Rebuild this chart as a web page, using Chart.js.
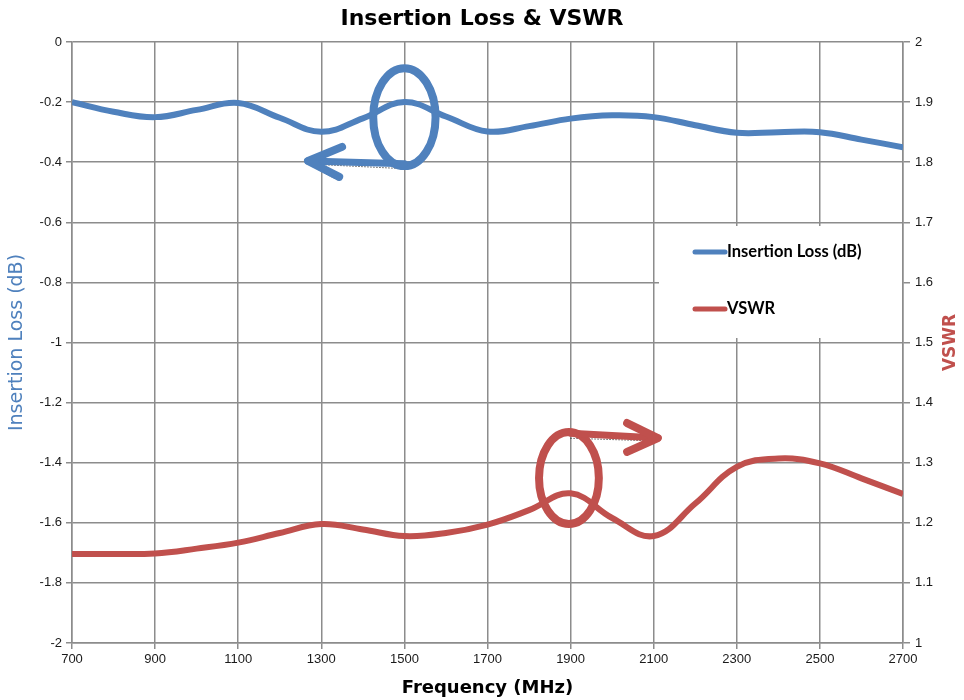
<!DOCTYPE html>
<html>
<head>
<meta charset="utf-8">
<title>Insertion Loss & VSWR</title>
<script src="https://cdn.jsdelivr.net/npm/chart.js@4.4.1/dist/chart.umd.min.js"></script>
<style>
  html, body { margin: 0; padding: 0; background: #fff; }
  #wrap { width: 964px; height: 700px; }
</style>
</head>
<body>
<div id="wrap"><canvas id="lossChart" width="964" height="700"></canvas></div>
<script>
// Frequency points (MHz)
const freqs = [700, 800, 900, 1000, 1100, 1200, 1300, 1400, 1500, 1600, 1700,
               1800, 1900, 2000, 2100, 2200, 2300, 2400, 2500, 2600, 2700];

// Insertion loss (dB), left axis
const insertionLoss = [-0.20, -0.232, -0.25, -0.226, -0.203, -0.252, -0.299, -0.254, -0.20, -0.248, -0.298,
                       -0.28, -0.255, -0.244, -0.25, -0.277, -0.302, -0.30, -0.30, -0.325, -0.35];

// VSWR, right axis
const vswr = [1.148, 1.148, 1.149, 1.157, 1.167, 1.183, 1.198, 1.189, 1.178, 1.183, 1.197,
              1.221, 1.249, 1.208, 1.178, 1.232, 1.293, 1.307, 1.299, 1.274, 1.248];

const seriesNames = ['Insertion Loss (dB)', 'VSWR'];
const xRange = [700, 2700];
const lossRange = [-2, 0];
const vswrRange = [1, 2];

const BLUE = '#4f81bd';
const RED = '#c0504d';
const GRID = '#8c8c8c';

function pairs(xs, ys) {
    return xs.map((x, i) => ({ x: x, y: ys[i] }));
}

function fmt(v) {
    return String(+v.toFixed(2));
}

// hand-drawn looking callouts, placed in data units
const callouts = [
    { axis: 'yL', color: BLUE, cx: 1500, cy: -0.25, rx: 75, ry: 0.163,
      shaft: [[1500, -0.405], [1268, -0.396]], barbs: [[1350, -0.349], [1343, -0.449]] },
    { axis: 'yR', color: RED, cx: 1896, cy: 1.2745, rx: 72, ry: 0.0765,
      shaft: [[1900, 1.349], [2110, 1.341]], barbs: [[2036, 1.366], [2036, 1.318]] }
];

const calloutPlugin = {
    id: 'callouts',
    afterDatasetsDraw(chart) {
        const ctx = chart.ctx;
        const xs = chart.scales.x;
        callouts.forEach(c => {
            const ys = chart.scales[c.axis];
            const px = v => xs.getPixelForValue(v);
            const py = v => ys.getPixelForValue(v);
            ctx.save();
            ctx.strokeStyle = c.color;
            ctx.lineCap = 'round';
            ctx.lineJoin = 'round';

            // dotted shadow under the arrow
            const tip = c.shaft[1];
            ctx.save();
            ctx.strokeStyle = 'rgba(0,0,0,0.55)';
            ctx.lineWidth = 1;
            ctx.setLineDash([1, 2]);
            ctx.beginPath();
            ctx.moveTo(px(c.shaft[0][0]), py(c.shaft[0][1]) + 5);
            ctx.lineTo(px(tip[0]), py(tip[1]) + 3);
            ctx.lineTo(px(c.barbs[1][0]) - 2, py(c.barbs[1][1]) + 3);
            ctx.stroke();
            ctx.restore();

            // ellipse
            const ex = px(c.cx), ey = py(c.cy);
            const erx = Math.abs(px(c.cx + c.rx) - ex);
            const ery = Math.abs(py(c.cy + c.ry) - ey);
            ctx.lineWidth = 8;
            ctx.beginPath();
            ctx.ellipse(ex, ey, erx, ery, 0, 0, Math.PI * 2);
            ctx.stroke();

            // arrow
            ctx.lineWidth = 7;
            ctx.beginPath();
            ctx.moveTo(px(c.shaft[0][0]), py(c.shaft[0][1]));
            ctx.lineTo(px(tip[0]), py(tip[1]));
            ctx.stroke();
            ctx.lineWidth = 8;
            ctx.beginPath();
            ctx.moveTo(px(c.barbs[0][0]), py(c.barbs[0][1]));
            ctx.lineTo(px(tip[0]), py(tip[1]));
            ctx.lineTo(px(c.barbs[1][0]), py(c.barbs[1][1]));
            ctx.stroke();
            ctx.restore();
        });
    },
    afterDraw(chart) {
        const ctx = chart.ctx;
        const area = chart.chartArea;
        // legend box inside plot, white behind to hide the grid
        const boxL = area.right - 244, boxT = area.top + 184;
        ctx.save();
        ctx.fillStyle = '#fff';
        ctx.fillRect(boxL, boxT, area.right - boxL - 1, 112);
        ctx.font = 'bold 16.5px Lato';
        ctx.textBaseline = 'middle';
        chart.data.datasets.forEach((ds, i) => {
            const y = boxT + 26 + i * 57;
            ctx.strokeStyle = ds.borderColor;
            ctx.lineWidth = 5;
            ctx.lineCap = 'round';
            ctx.beginPath();
            ctx.moveTo(boxL + 36, y);
            ctx.lineTo(boxL + 66, y);
            ctx.stroke();
            ctx.fillStyle = '#000';
            ctx.fillText(ds.label, boxL + 68, y);
        });

        // right axis title, reads bottom to top
        ctx.translate(951, (area.top + area.bottom) / 2);
        ctx.rotate(-Math.PI / 2);
        ctx.font = 'bold 17px "DejaVu Sans"';
        ctx.fillStyle = RED;
        ctx.textAlign = 'center';
        ctx.fillText('VSWR', 0, 0);
        ctx.restore();
    }
};

const ctx = document.getElementById('lossChart').getContext('2d');
new Chart(ctx, {
    type: 'line',
    data: {
        datasets: [{
            label: seriesNames[0],
            data: pairs(freqs, insertionLoss),
            yAxisID: 'yL',
            borderColor: BLUE,
            borderWidth: 6,
            pointRadius: 0,
            tension: 0.4,
            fill: false
        }, {
            label: seriesNames[1],
            data: pairs(freqs, vswr),
            yAxisID: 'yR',
            borderColor: RED,
            borderWidth: 6,
            pointRadius: 0,
            tension: 0.4,
            fill: false
        }]
    },
    options: {
        responsive: false,
        animation: false,
        layout: { padding: 0 },
        scales: {
            x: {
                type: 'linear',
                min: xRange[0],
                max: xRange[1],
                afterFit: s => { s.height = 57; },
                ticks: {
                    stepSize: 200,
                    color: '#1a1a1a',
                    font: { family: 'Liberation Sans', size: 13 },
                    padding: 3,
                    maxRotation: 0,
                    callback: v => fmt(v)
                },
                grid: { color: GRID, lineWidth: 1.5, tickLength: 6, tickColor: GRID },
                border: { color: GRID, width: 1.5 },
                title: {
                    display: true,
                    text: 'Frequency (MHz)',
                    color: '#000',
                    font: { family: 'DejaVu Sans', size: 18, weight: 'bold' },
                    padding: { top: 0, bottom: 1 }
                }
            },
            yL: {
                type: 'linear',
                position: 'left',
                min: lossRange[0],
                max: lossRange[1],
                afterFit: s => { s.width = 72; },
                ticks: {
                    stepSize: 0.2,
                    color: '#1a1a1a',
                    font: { family: 'Liberation Sans', size: 13 },
                    padding: 4,
                    callback: v => fmt(v)
                },
                grid: { color: GRID, lineWidth: 1.5, tickLength: 6, tickColor: GRID },
                border: { color: GRID, width: 1.5 },
                title: {
                    display: true,
                    text: 'Insertion Loss (dB)',
                    color: BLUE,
                    font: { family: 'DejaVu Sans', size: 19 },
                    padding: { top: 6, bottom: 0 }
                }
            },
            yR: {
                type: 'linear',
                position: 'right',
                min: vswrRange[0],
                max: vswrRange[1],
                afterFit: s => { s.width = 61; },
                ticks: {
                    stepSize: 0.1,
                    color: '#1a1a1a',
                    font: { family: 'Liberation Sans', size: 13 },
                    padding: 5,
                    callback: v => fmt(v)
                },
                grid: { drawOnChartArea: false, color: GRID, lineWidth: 1.5, tickLength: 7, tickColor: GRID },
                border: { color: GRID, width: 1.5 }
            }
        },
        plugins: {
            legend: { display: false },
            tooltip: { enabled: false },
            title: {
                display: true,
                text: 'Insertion Loss & VSWR',
                color: '#000',
                font: { family: 'DejaVu Sans', size: 22, weight: 'bold' },
                padding: { top: 6, bottom: 9.6 }
            }
        }
    },
    plugins: [calloutPlugin]
});
</script>
</body>
</html>
